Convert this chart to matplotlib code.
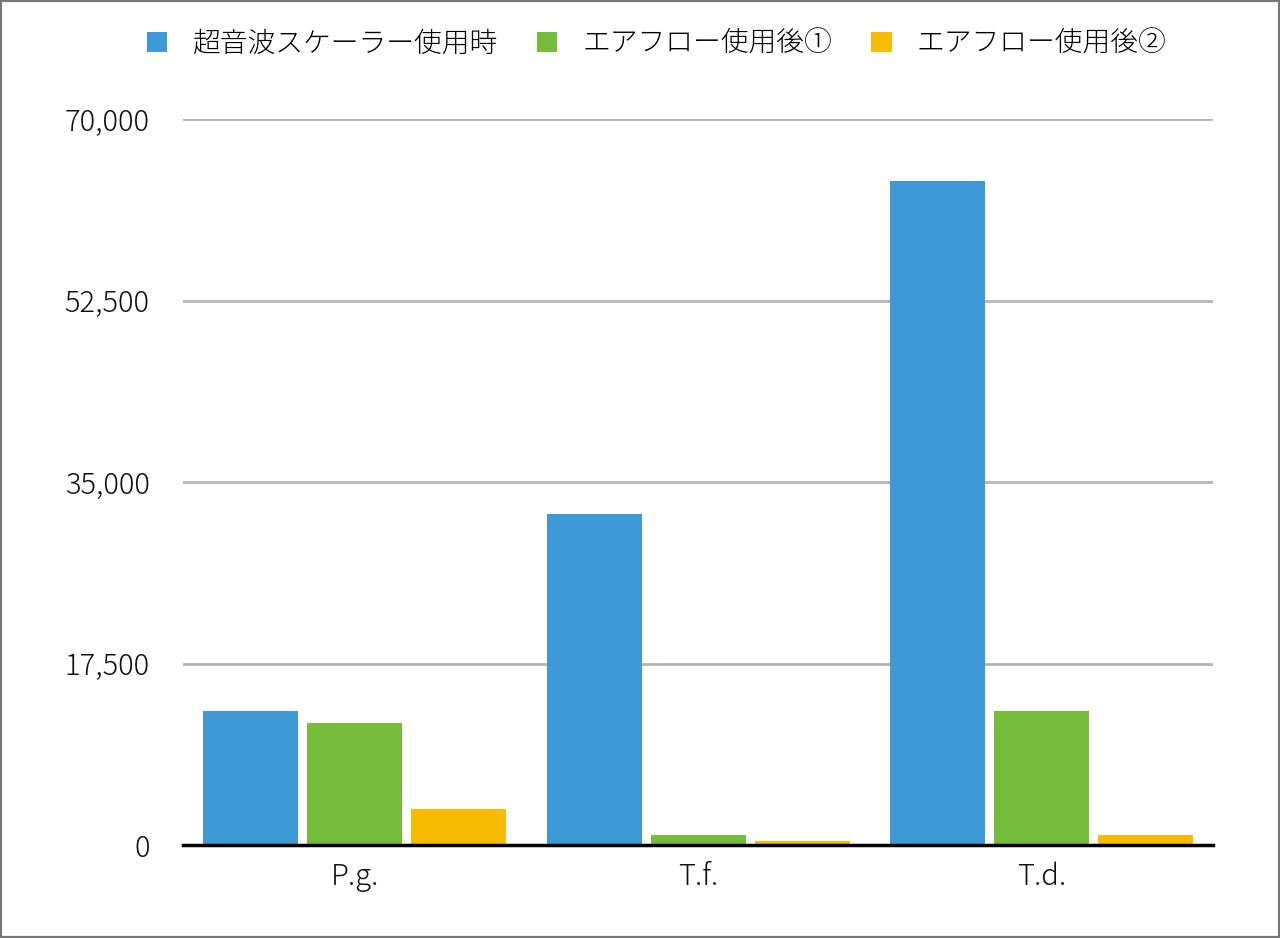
import numpy as np
import matplotlib.pyplot as plt
from matplotlib.patches import Rectangle

plt.rcParams['font.family'] = ['Noto Sans CJK JP', 'DejaVu Sans']
plt.rcParams['font.weight'] = 'light'

# data
categories = ['P.g.', 'T.f.', 'T.d.']
series_names = ['超音波スケーラー使用時', 'エアフロー使用後①', 'エアフロー使用後②']
scaler = [12900, 31900, 64000]
airflow1 = [11800, 950, 12900]
airflow2 = [3450, 380, 950]
yticks = [0, 17500, 35000, 52500, 70000]
colors = ['#3d9ad6', '#74bc3a', '#f7bc00']

fig = plt.figure(figsize=(12.8, 9.38), dpi=100)
ax = fig.add_axes([0.143, 0.0991, 0.805, 0.774])

x = np.arange(len(categories))
w = 0.277
step = 0.303
for i, (vals, name, col) in enumerate(zip([scaler, airflow1, airflow2], series_names, colors)):
    ax.bar(x + (i - 1) * step, vals, width=w, color=col, label=name, zorder=3)

ax.set_xlim(-0.5, 2.5)
ax.set_ylim(0, 70000)
ax.set_yticks(yticks)
ax.set_yticklabels([f'{v:,}' for v in yticks])
ax.set_xticks(x)
ax.set_xticklabels(categories)
ax.yaxis.grid(True, color='#b4b4b4', linewidth=2, zorder=0)
ax.tick_params(axis='both', length=0, labelsize=21, colors='#111111')
ax.tick_params(axis='y', pad=24)
ax.tick_params(axis='x', pad=12)
for s in ['top', 'right', 'left']:
    ax.spines[s].set_visible(False)
ax.spines['bottom'].set_linewidth(2.5)
ax.spines['bottom'].set_color('black')
ax.spines['bottom'].set_zorder(4)

fig.legend(loc='upper center', bbox_to_anchor=(0.513, 0.995), ncol=3, frameon=False,
           fontsize=20, handlelength=0.75, handleheight=0.75, handletextpad=0.9,
           columnspacing=1.4)

fig.patches.append(Rectangle((0, 0), 1, 1, transform=fig.transFigure, fill=False,
                             edgecolor='#777777', linewidth=3))

fig.savefig('out.png', dpi=100)
